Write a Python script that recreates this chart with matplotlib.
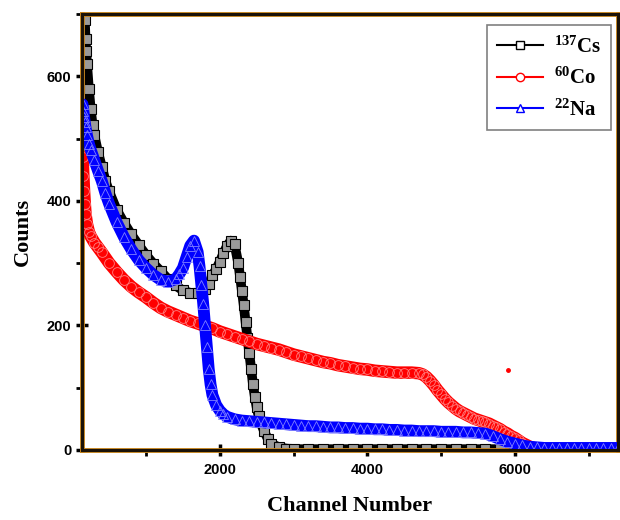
import numpy as np
import matplotlib
matplotlib.use('Agg')
import matplotlib.pyplot as plt
from matplotlib.ticker import MultipleLocator
from matplotlib.lines import Line2D

plt.rcParams['mathtext.fontset'] = 'custom'
plt.rcParams['mathtext.rm'] = 'Liberation Serif'
plt.rcParams['mathtext.bf'] = 'Liberation Serif:bold'

# 137Cs spectrum
cs_ch = [140, 150, 160, 170, 180, 190, 200, 225, 250, 275, 300, 350, 400, 450, 500,
         600, 700, 800, 900, 1000, 1100, 1200, 1300, 1400, 1500, 1600, 1700, 1800,
         1850, 1900, 1950, 2000, 2050, 2100, 2150, 2200,
         2250, 2275, 2300, 2325, 2350, 2375, 2400, 2425, 2450, 2475, 2500, 2525, 2550,
         2600, 2650, 2700, 2800, 2900, 3000,
         3200, 3400, 3600, 3800, 4000, 4200, 4400, 4600, 4800, 5000, 5200, 5400, 5600, 5800, 6000]
cs_counts = [800, 760, 720, 690, 660, 640, 620, 580, 548, 522, 505, 478, 455, 432, 415,
             386, 365, 346, 329, 313, 299, 287, 274, 264, 256, 252, 252, 258,
             266, 280, 290, 302, 316, 328, 336, 330,
             300, 278, 255, 232, 205, 180, 155, 130, 105, 85, 68, 55, 45,
             30, 18, 10, 4, 2, 1,
             1, 1, 1, 1, 1, 1, 1, 1, 1, 1, 1, 1, 1, 1, 1]

# 60Co spectrum
co_ch = [140, 150, 160, 170, 180, 200, 225, 250, 300, 350, 400] \
        + list(range(500, 4701, 100)) + list(range(4750, 6301, 50)) \
        + [6400, 6600, 6800, 7000, 7200, 7400]
co_counts = [470, 440, 415, 395, 378, 362, 350, 343, 333, 325, 317,
             300, 286, 273, 262, 253, 245, 236, 228, 222, 217,
             212, 207, 203, 199, 195, 190, 186, 182, 178, 174,
             170, 167, 164, 161, 157, 153, 150, 147, 144, 141,
             139, 136, 134, 132, 130, 129, 127, 126, 125, 124,
             124, 124, 123,
             121, 117, 111, 104, 96, 89, 82, 76, 71, 66,
             62, 59, 56, 53, 50, 48, 46, 44, 42, 39,
             36, 33, 29, 26, 22, 19, 15, 11, 8, 5,
             3, 2,
             1, 1, 1, 1, 1, 1]
co_stray_ch = [5906]
co_stray = [128]

# 22Na spectrum
na_ch = [140, 150, 160, 170, 180, 200, 225, 250, 300, 350, 400, 450, 500,
         600, 700, 800, 900, 1000, 1100, 1200, 1300, 1400, 1450, 1500, 1550, 1600, 1650,
         1700, 1725, 1750, 1775, 1800, 1825, 1850, 1875, 1900, 1950, 2000, 2050, 2100] \
        + list(range(2200, 7401, 100))
na_counts = [555, 545, 535, 526, 518, 505, 492, 482, 465, 448, 432, 412, 395,
             366, 342, 322, 305, 292, 281, 273, 270, 274, 282, 292, 310, 328, 336,
             318, 295, 265, 235, 200, 165, 130, 105, 88, 72, 63, 57, 53,
             49, 47, 46, 45, 44, 43, 42, 41, 40, 39,
             38, 38, 37, 36, 36, 35, 35, 34, 34, 33,
             33, 32, 32, 31, 31, 30, 30, 30, 29, 29,
             29, 28, 28, 27, 26, 22, 17, 13, 10,
             7, 5, 4, 3, 3, 3, 3, 3, 3, 3, 3, 3, 3, 3]

fig = plt.figure(figsize=(6.2, 5.2), dpi=100, facecolor='white')
ax = fig.add_axes([0.132, 0.135, 0.865, 0.838])

# thick band under the symbols, like the dense per-channel points of the original
ax.plot(cs_ch, cs_counts, color='black', lw=7, solid_joinstyle='round',
        solid_capstyle='round', zorder=2)
ax.plot(cs_ch, cs_counts, ls='none', marker='s', ms=7, mfc='#9a9a9a', mec='black',
        mew=0.8, zorder=2)
ax.plot(co_ch, co_counts, color='red', lw=9, solid_joinstyle='round',
        solid_capstyle='round', zorder=3)
ax.plot(co_ch, co_counts, ls='none', marker='o', ms=7, mfc='none', mec='#ff8080',
        mew=0.6, zorder=3)
ax.plot(co_stray_ch, co_stray, 'o', color='red', ms=2.5, zorder=3)
ax.plot(na_ch, na_counts, color='blue', lw=8.5, solid_joinstyle='round',
        solid_capstyle='round', zorder=4)
ax.plot(na_ch, na_counts, ls='none', marker='^', ms=7, mfc='none', mec='#8080ff',
        mew=0.6, zorder=4)

ax.set_xlim(130, 7400)
ax.set_ylim(0, 700)
ax.xaxis.set_major_locator(MultipleLocator(2000))
ax.xaxis.set_minor_locator(MultipleLocator(1000))
ax.yaxis.set_major_locator(MultipleLocator(200))
ax.yaxis.set_minor_locator(MultipleLocator(100))

ax.tick_params(which='major', direction='inout', length=9, width=2.5, color='black',
               labelsize=10.5, pad=3)
ax.tick_params(which='minor', direction='out', length=4, width=2, color='black')
ax.tick_params(axis='x', which='major', pad=5)
for lab in ax.get_xticklabels() + ax.get_yticklabels():
    lab.set_fontweight('bold')
    lab.set_family('Liberation Sans')

# frame: thin orange edge around a dark core
for s in ax.spines.values():
    s.set_color('#c8861e')
    s.set_linewidth(3.5)
edge = dict(color='#1a1208', lw=2.2, transform=ax.transAxes, clip_on=False, zorder=6)
ax.plot([0, 1], [0, 0], **edge)
ax.plot([0, 1], [1, 1], **edge)
ax.plot([0, 0], [0, 1], **edge)
ax.plot([1, 1], [0, 1], **edge)

ax.set_xlabel('Channel Number', fontsize=16, fontweight='bold', family='Liberation Serif',
              labelpad=14)
ax.set_ylabel('Counts', fontsize=16, fontweight='bold', family='Liberation Serif',
              labelpad=10)

handles = [
    Line2D([], [], color='black', lw=1.5, marker='s', ms=6, mfc='white', mec='black'),
    Line2D([], [], color='red', lw=1.5, marker='o', ms=6, mfc='white', mec='red'),
    Line2D([], [], color='blue', lw=1.5, marker='^', ms=6, mfc='white', mec='blue'),
]
labels = [r'$\mathbf{^{137}Cs}$', r'$\mathbf{^{60}Co}$', r'$\mathbf{^{22}Na}$']
leg = ax.legend(handles, labels, loc='upper right', bbox_to_anchor=(0.995, 0.985),
                numpoints=1, fancybox=False, edgecolor='gray', fontsize=15,
                handlelength=2.2, borderpad=0.5, labelspacing=0.5, handletextpad=0.5,
                borderaxespad=0.2, framealpha=1)
leg.get_frame().set_linewidth(1.2)

plt.savefig('out.png', dpi=100, facecolor=fig.get_facecolor())
